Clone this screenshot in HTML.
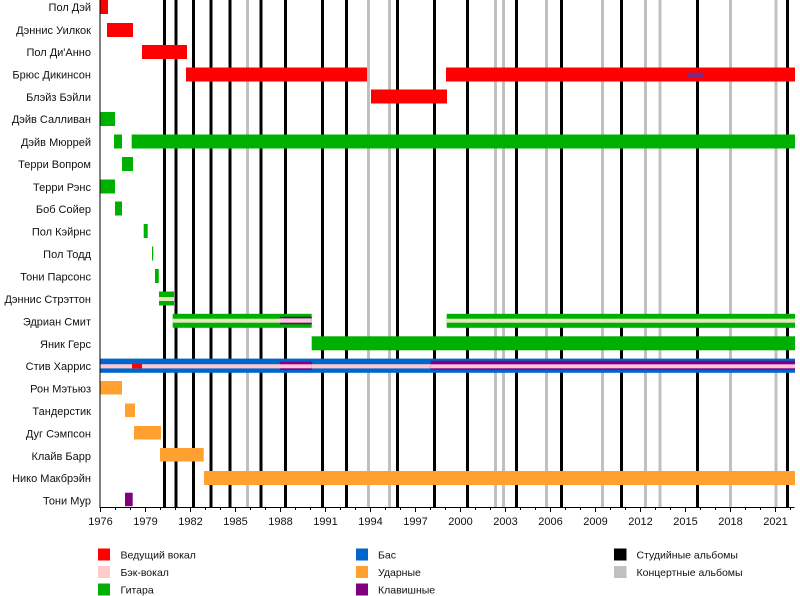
<!DOCTYPE html>
<html><head><meta charset="utf-8"><style>
html,body{margin:0;padding:0;background:#fff;}
svg{display:block;}
text{font-family:"Liberation Sans",Arial,sans-serif;fill:#111;}
</style></head><body>
<svg width="800" height="596" viewBox="0 0 800 596" xmlns="http://www.w3.org/2000/svg">
<!-- album lines -->
<g fill="#c0c0c0">
<rect x="246" y="0" width="3" height="507"/>
<rect x="367" y="0" width="3" height="507"/>
<rect x="388" y="0" width="3" height="507"/>
<rect x="494" y="0" width="3" height="507"/>
<rect x="502" y="0" width="3" height="507"/>
<rect x="545" y="0" width="3" height="507"/>
<rect x="601" y="0" width="3" height="507"/>
<rect x="644" y="0" width="3" height="507"/>
<rect x="658.5" y="0" width="3" height="507"/>
<rect x="729" y="0" width="3" height="507"/>
<rect x="774.5" y="0" width="3" height="507"/>
</g>
<g fill="#000">
<rect x="163" y="0" width="3" height="507"/>
<rect x="174.5" y="0" width="3" height="507"/>
<rect x="192" y="0" width="3" height="507"/>
<rect x="209.5" y="0" width="3" height="507"/>
<rect x="228.5" y="0" width="3" height="507"/>
<rect x="259.5" y="0" width="3" height="507"/>
<rect x="284" y="0" width="3" height="507"/>
<rect x="321" y="0" width="3" height="507"/>
<rect x="345" y="0" width="3" height="507"/>
<rect x="396" y="0" width="3" height="507"/>
<rect x="433" y="0" width="3" height="507"/>
<rect x="466" y="0" width="3" height="507"/>
<rect x="515" y="0" width="3" height="507"/>
<rect x="560" y="0" width="3" height="507"/>
<rect x="620" y="0" width="3" height="507"/>
<rect x="696" y="0" width="3" height="507"/>
<rect x="786" y="0" width="3" height="507"/>
</g>

<!-- bars -->
<g fill="#ff0000">
<rect x="100.5" y="0" width="7.5" height="14"/>
<rect x="107" y="23" width="26" height="14"/>
<rect x="142" y="45" width="45" height="14"/>
<rect x="186" y="67.5" width="181" height="14"/>
<rect x="446" y="67.5" width="349" height="14"/>
<rect x="371" y="89.5" width="76" height="14"/>
</g>
<rect x="687" y="72.7" width="16.5" height="4.6" fill="#7a2a8a"/>

<g fill="#00b000">
<rect x="100.5" y="112" width="14.5" height="14"/>
<rect x="114" y="134.5" width="8" height="14"/>
<rect x="131.7" y="134.5" width="663.3" height="14"/>
<rect x="122" y="157" width="11" height="14"/>
<rect x="100.5" y="179.5" width="14.5" height="14"/>
<rect x="115" y="201.5" width="7" height="14"/>
<rect x="143.7" y="224" width="4" height="14"/>
<rect x="152" y="246.5" width="1.2" height="14"/>
<rect x="155" y="269" width="3.8" height="14"/>
<rect x="159" y="291.5" width="15" height="14"/>
<rect x="172.7" y="313.8" width="139" height="14"/>
<rect x="446.7" y="313.8" width="348.3" height="14"/>
<rect x="311.7" y="336.3" width="483.3" height="14"/>
</g>
<!-- backing vocal stripes on green -->
<g fill="#e4e6c0">
<rect x="159" y="297" width="15" height="4"/>
<rect x="172.7" y="318.7" width="139" height="4"/>
<rect x="446.7" y="318.7" width="348.3" height="4"/>
</g>
<rect x="280" y="316.7" width="31.7" height="7.6" fill="#3a2050"/>
<rect x="280" y="318.4" width="31.7" height="4.3" fill="#ffc4dc"/>

<!-- Steve Harris -->
<rect x="100.5" y="358.6" width="694.5" height="14.2" fill="#0066cc"/>
<rect x="100.5" y="364.2" width="694.5" height="4.2" fill="#ffc8d0"/>
<rect x="132" y="364" width="10" height="4.4" fill="#ff0000"/>
<rect x="280" y="361.7" width="31.7" height="8.3" fill="#800080"/>
<rect x="430.7" y="360.8" width="364.3" height="9" fill="#800080"/>
<rect x="280" y="364.3" width="31.7" height="4" fill="#ffc4dc"/>
<rect x="430.7" y="364.3" width="364.3" height="4" fill="#ffc4dc"/>

<g fill="#ffa030">
<rect x="100.5" y="381" width="21.5" height="13.5"/>
<rect x="125" y="403.5" width="10" height="13.5"/>
<rect x="134" y="426" width="27" height="13.5"/>
<rect x="160" y="448" width="43.7" height="13.5"/>
<rect x="204" y="471" width="591" height="14"/>
</g>
<rect x="125" y="492.7" width="7.7" height="13.5" fill="#800080"/>

<!-- axes -->
<rect x="99.5" y="0" width="1" height="508" fill="#000"/>
<rect x="99.5" y="507" width="695" height="1" fill="#000"/>
<g stroke="#000" stroke-width="1">
<path d="M100.5 507v5 M115.5 507v3 M130.5 507v3 M145.5 507v5 M160.5 507v3 M175.5 507v3 M190.5 507v5 M205.5 507v3 M220.5 507v3 M235.5 507v5 M250.5 507v3 M265.5 507v3 M280.5 507v5 M295.5 507v3 M310.5 507v3 M325.5 507v5 M340.5 507v3 M355.5 507v3 M370.5 507v5 M385.5 507v3 M400.5 507v3 M415.5 507v5 M430.5 507v3 M445.5 507v3 M460.5 507v5 M475.5 507v3 M490.5 507v3 M505.5 507v5 M520.5 507v3 M535.5 507v3 M550.5 507v5 M565.5 507v3 M580.5 507v3 M595.5 507v5 M610.5 507v3 M625.5 507v3 M640.5 507v5 M655.5 507v3 M670.5 507v3 M685.5 507v5 M700.5 507v3 M715.5 507v3 M730.5 507v5 M745.5 507v3 M760.5 507v3 M775.5 507v5 M790.5 507v3"/>
</g>
<g font-size="11" text-anchor="middle">
<text x="100.5" y="525">1976</text>
<text x="145.5" y="525">1979</text>
<text x="190.5" y="525">1982</text>
<text x="235.5" y="525">1985</text>
<text x="280.5" y="525">1988</text>
<text x="325.5" y="525">1991</text>
<text x="370.5" y="525">1994</text>
<text x="415.5" y="525">1997</text>
<text x="460.5" y="525">2000</text>
<text x="505.5" y="525">2003</text>
<text x="550.5" y="525">2006</text>
<text x="595.5" y="525">2009</text>
<text x="640.5" y="525">2012</text>
<text x="685.5" y="525">2015</text>
<text x="730.5" y="525">2018</text>
<text x="775.5" y="525">2021</text>
</g>

<!-- row labels -->
<g font-size="11" text-anchor="end">
<text x="91" y="11">Пол Дэй</text>
<text x="91" y="34">Дэннис Уилкок</text>
<text x="91" y="56">Пол Ди'Анно</text>
<text x="91" y="78.5">Брюс Дикинсон</text>
<text x="91" y="101">Блэйз Бэйли</text>
<text x="91" y="123">Дэйв Салливан</text>
<text x="91" y="146">Дэйв Мюррей</text>
<text x="91" y="168">Терри Вопром</text>
<text x="91" y="191">Терри Рэнс</text>
<text x="91" y="213">Боб Сойер</text>
<text x="91" y="235.5">Пол Кэйрнс</text>
<text x="91" y="258">Пол Тодд</text>
<text x="91" y="280.5">Тони Парсонс</text>
<text x="91" y="303">Дэннис Стрэттон</text>
<text x="91" y="325.5">Эдриан Смит</text>
<text x="91" y="348">Яник Герс</text>
<text x="91" y="370">Стив Харрис</text>
<text x="91" y="392.5">Рон Мэтьюз</text>
<text x="91" y="415">Тандерстик</text>
<text x="91" y="437.5">Дуг Сэмпсон</text>
<text x="91" y="460">Клайв Барр</text>
<text x="91" y="482">Нико Макбрэйн</text>
<text x="91" y="504.5">Тони Мур</text>
</g>

<!-- legend -->
<rect x="98" y="548.5" width="12" height="12" fill="#ff0000"/>
<rect x="98" y="566" width="12" height="12" fill="#ffcccc"/>
<rect x="98" y="583.5" width="12" height="12" fill="#00b000"/>
<rect x="356" y="548.5" width="12" height="12" fill="#0066cc"/>
<rect x="356" y="566" width="12" height="12" fill="#ffa030"/>
<rect x="356" y="583.5" width="12" height="12" fill="#800080"/>
<rect x="614" y="548.5" width="12.5" height="12" fill="#000"/>
<rect x="614" y="566" width="12.5" height="12" fill="#c0c0c0"/>
<g font-size="10.5">
<text x="120.5" y="558.5">Ведущий вокал</text>
<text x="120.5" y="576">Бэк-вокал</text>
<text x="120.5" y="593.5">Гитара</text>
<text x="378" y="558.5">Бас</text>
<text x="378" y="576">Ударные</text>
<text x="378" y="593.5">Клавишные</text>
<text x="636.5" y="558.5">Студийные альбомы</text>
<text x="636.5" y="576">Концертные альбомы</text>
</g>
</svg>
</body></html>
